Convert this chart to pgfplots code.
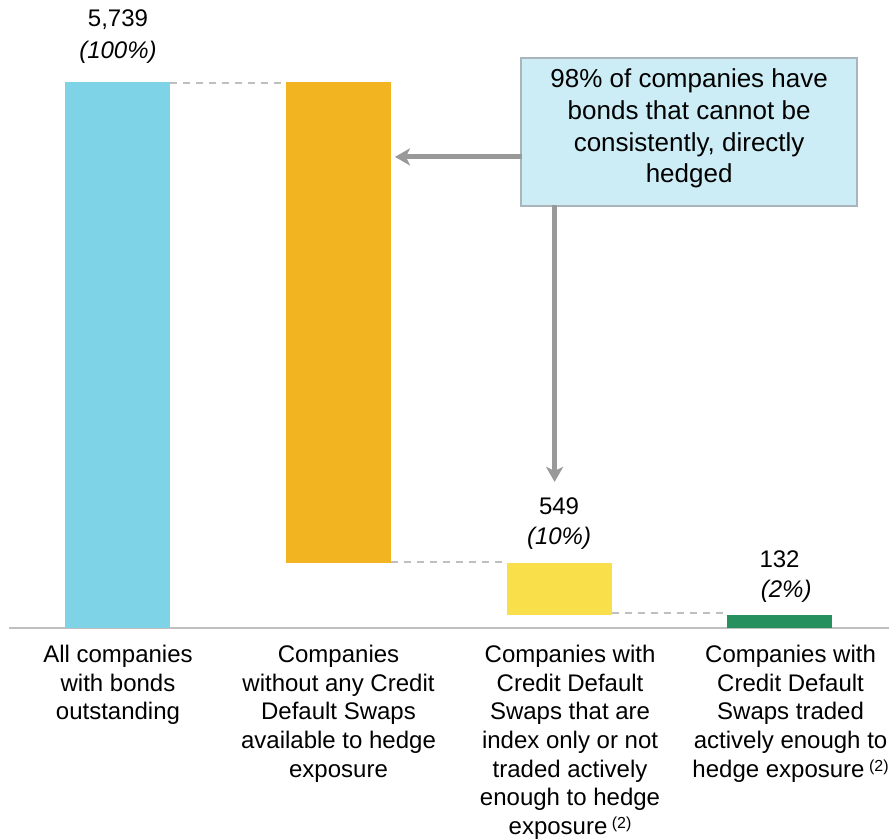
\documentclass[border=0pt]{standalone}
\usepackage{fontspec}
\setmainfont{Liberation Sans}
\usepackage{pgfplots}
\pgfplotsset{compat=1.18}
\usetikzlibrary{arrows.meta}
\definecolor{cblue}{HTML}{7FD3E6}
\definecolor{corange}{HTML}{F2B420}
\definecolor{cyellow}{HTML}{F9E04B}
\definecolor{cgreen}{HTML}{26905E}
\definecolor{cfill}{HTML}{CCEDF5}
\definecolor{cborder}{HTML}{A9B5BA}
\definecolor{carrow}{HTML}{999999}
\definecolor{cdash}{HTML}{BFBFBF}
\definecolor{caxis}{HTML}{BFBFBF}
\DeclareRobustCommand{\sups}{\hspace{4.5pt}{\fontsize{16}{16}\selectfont\raisebox{5.5pt}{(2)}}}
\begin{document}
\begin{tikzpicture}
\path[use as bounding box] (0,0) rectangle (894pt,838pt);
\begin{axis}[
  at={(0pt,210.4pt)}, anchor=south west,
  scale only axis, width=894pt, height=627.6pt,
  xmin=-0.535, xmax=3.519, ymin=0, ymax=6600,
  ybar stacked, bar width=105pt,
  axis line style={draw=none},
  ytick=\empty,
  xtick={0,1,2.05,3.05},
  xticklabels={
    {All companies\\with bonds\\outstanding},
    {Companies\\without any Credit\\Default Swaps\\available to hedge\\exposure},
    {Companies with\\Credit Default\\Swaps that are\\index only or not\\traded actively\\enough to hedge\\exposure\sups},
    {Companies with\\Credit Default\\Swaps traded\\actively enough to\\hedge exposure\sups}},
  major tick length=0pt,
  xticklabel style={anchor=north, align=center, font=\fontsize{24}{28.6}\selectfont, inner sep=0pt, yshift=-17.5pt},
  clip=false,
]
% invisible bases
\addplot[draw=none, fill=white, fill opacity=0] coordinates {(0,0) (1,681) (2,132) (3,0)};
% visible bars
\addplot[draw=none, fill=cblue] coordinates {(0,5739) (1,0) (2,0) (3,0)};
\addplot[draw=none, fill=corange] coordinates {(0,0) (1,5058) (2,0) (3,0)};
\addplot[draw=none, fill=cyellow] coordinates {(0,0) (1,0) (2,549) (3,0)};
\addplot[draw=none, fill=cgreen] coordinates {(0,0) (1,0) (2,0) (3,132)};

% axis line
\draw[caxis, line width=1.8pt] (axis cs:-0.494,0) -- (axis cs:3.497,0);

% connectors
\draw[cdash, line width=1.8pt, dash pattern=on 7pt off 6pt] (axis cs:0.238,5725) -- (axis cs:0.762,5725);
\draw[cdash, line width=1.8pt, dash pattern=on 7pt off 6pt] (axis cs:1.238,690) -- (axis cs:1.762,690);
\draw[cdash, line width=1.8pt, dash pattern=on 7pt off 6pt] (axis cs:2.238,150) -- (axis cs:2.762,150);

% value labels
\node[anchor=base, inner sep=0pt, font=\fontsize{24}{29}\selectfont] at (axis cs:0,6317) {5,739};
\node[anchor=base, inner sep=0pt, font=\fontsize{24}{29}\selectfont\itshape] at (axis cs:0,5981) {(100\%)};
\node[anchor=base, inner sep=0pt, font=\fontsize{24}{29}\selectfont] at (axis cs:1,3667) {5,058};
\node[anchor=base, inner sep=0pt, font=\fontsize{24}{29}\selectfont\itshape] at (axis cs:1,3331) {(88\%)};
\node[anchor=base, inner sep=0pt, font=\fontsize{24}{29}\selectfont] at (axis cs:2,1185) {549};
\node[anchor=base, inner sep=0pt, font=\fontsize{24}{29}\selectfont\itshape] at (axis cs:2,870) {(10\%)};
\node[anchor=base, inner sep=0pt, font=\fontsize{24}{29}\selectfont] at (axis cs:3,628) {132};
\node[anchor=base, inner sep=0pt, font=\fontsize{24}{29}\selectfont\itshape] at (axis cs:3.03,312) {(2\%)};

% arrows
\draw[carrow, line width=5pt, -{Stealth[length=15pt,width=17pt,inset=4pt]}] (axis cs:1.83,4950) -- (axis cs:1.256,4950);
\draw[carrow, line width=5pt, -{Stealth[length=15pt,width=17pt,inset=4pt]}] (axis cs:1.980,4440) -- (axis cs:1.980,1532);

% callout
\draw[fill=cfill, draw=cborder, line width=1.3pt] (axis cs:1.828,5991) rectangle (axis cs:3.351,4435);
\coordinate (ctext) at (axis cs:2.590,5876);
\end{axis}
\node[align=center, anchor=north, inner sep=0pt, font=\fontsize{26}{31.7}\selectfont] at (ctext)
  {98\% of companies have\\bonds that cannot be\\consistently, directly\\hedged};
\end{tikzpicture}
\end{document}
